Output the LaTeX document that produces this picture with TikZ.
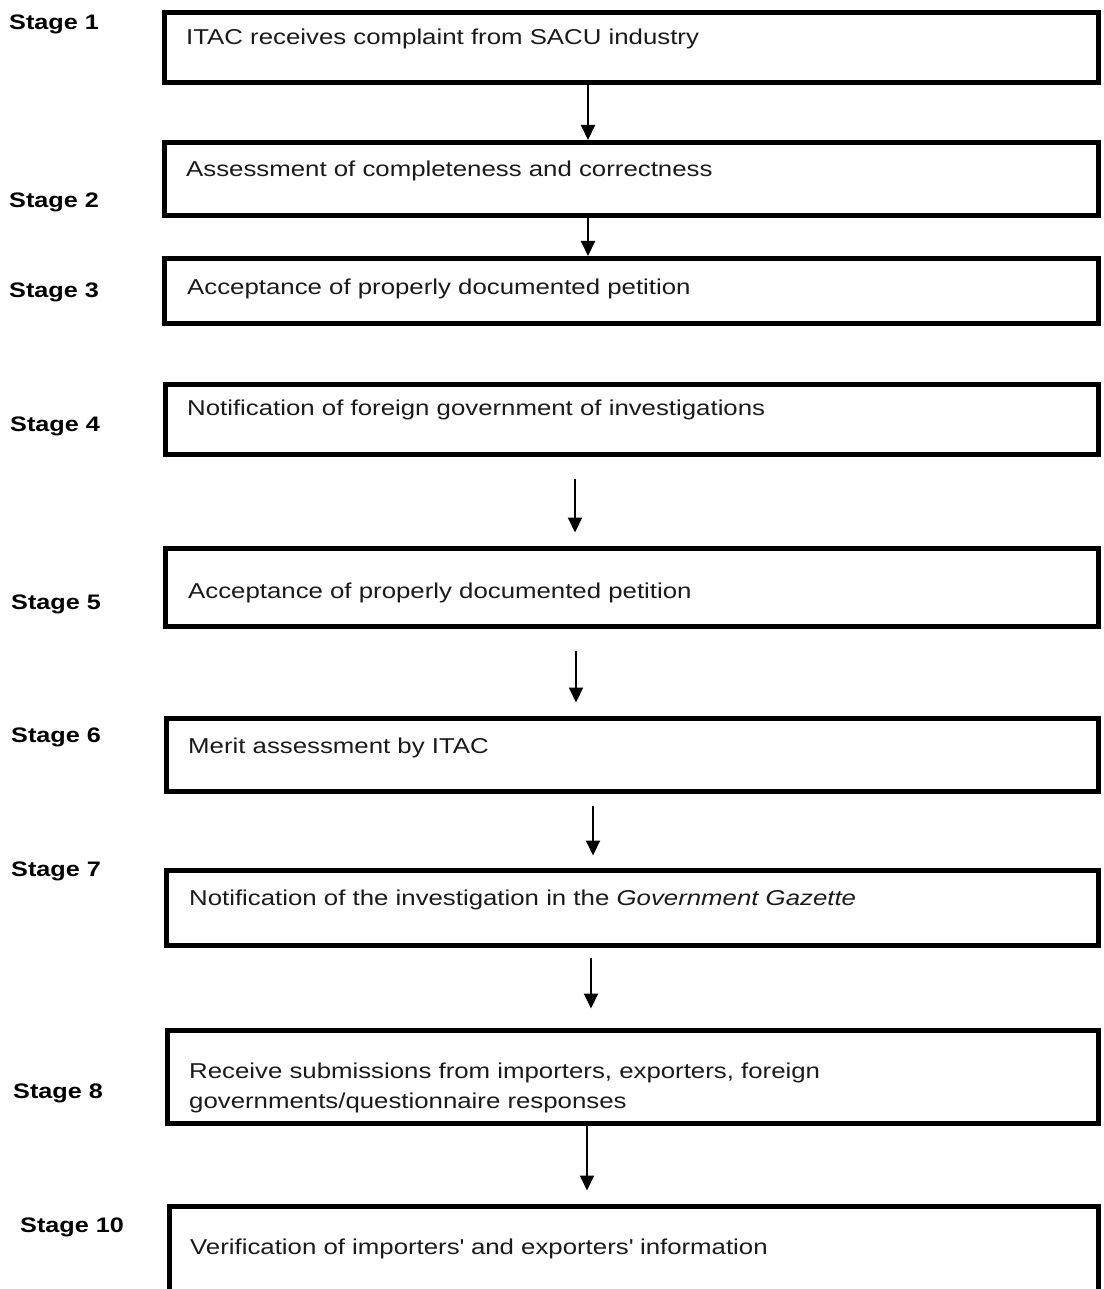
\documentclass[tikz,border=0pt]{standalone}
\usepackage{fontspec}
\setmainfont{Liberation Sans}[FakeStretch=1.2]
\usetikzlibrary{arrows.meta}
\definecolor{ink}{HTML}{1A1A1A}
\tikzset{
  box/.style={draw=black, line width=5pt, rectangle, inner sep=0pt, outer sep=0pt, anchor=north west},
  txt/.style={anchor=base west, inner sep=0pt, text=ink, align=left, font=\fontsize{21.5}{30}\selectfont},
  lbl/.style={anchor=base west, inner sep=0pt, text=black, font=\fontsize{21}{25}\selectfont\bfseries},
  arr/.style={line width=2pt, draw=black, -{Triangle[length=15pt,width=14pt]}}
}
\begin{document}
\begin{tikzpicture}[x=1pt,y=-1pt]
\useasboundingbox (0,0) rectangle (1103,1289);
% boxes
\node[box, minimum width=934pt, minimum height=70pt] (b1) at (164.5,12.5) {};
\node[box, minimum width=934pt, minimum height=73pt] (b2) at (164.5,142.5) {};
\node[box, minimum width=934pt, minimum height=65pt] (b3) at (164.5,258.5) {};
\node[box, minimum width=933pt, minimum height=70pt] (b4) at (165.5,384.5) {};
\node[box, minimum width=933pt, minimum height=78pt] (b5) at (165.5,548.5) {};
\node[box, minimum width=932pt, minimum height=73pt] (b6) at (166.5,718.5) {};
\node[box, minimum width=932pt, minimum height=75pt] (b7) at (166.5,870.5) {};
\node[box, minimum width=931pt, minimum height=93pt] (b8) at (167.5,1030.5) {};
\node[box, minimum width=929pt, minimum height=100pt] (b10) at (169.5,1206.5) {};
% box texts
\node[txt] (t1) at (186,45) {ITAC receives complaint from SACU industry};
\node[txt] (t2) at (186,177) {Assessment of completeness and correctness};
\node[txt] (t3) at (187,294) {Acceptance of properly documented petition};
\node[txt] (t4) at (187,415) {Notification of foreign government of investigations};
\node[txt] (t5) at (188,598) {Acceptance of properly documented petition};
\node[txt] (t6) at (188,753) {Merit assessment by ITAC};
\node[txt] (t7) at (189,905) {Notification of the investigation in the \textit{Government Gazette}};
\node[txt] (t8) at (189,1108) {Receive submissions from importers, exporters, foreign\\governments/questionnaire responses};
\node[txt] (t10) at (190,1254) {Verification of importers\textquotesingle{} and exporters\textquotesingle{} information};
% stage labels
\node[lbl] (s1) at (9,30) {Stage 1};
\node[lbl] (s2) at (9,208) {Stage 2};
\node[lbl] (s3) at (9,297) {Stage 3};
\node[lbl] (s4) at (10,431) {Stage 4};
\node[lbl] (s5) at (11,609) {Stage 5};
\node[lbl] (s6) at (11,742) {Stage 6};
\node[lbl] (s7) at (11,876) {Stage 7};
\node[lbl] (s8) at (13,1098) {Stage 8};
\node[lbl] (s10) at (20,1232) {Stage 10};
% arrow columns
\coordinate (x1) at (588,0);
\coordinate (x2) at (588,0);
\coordinate (x4) at (575,0);
\coordinate (x5) at (576,0);
\coordinate (x6) at (593,0);
\coordinate (x7) at (591,0);
\coordinate (x8) at (587,0);
% arrows
\draw[arr, shorten >=2.5pt] (b1.south -| x1) -- (b2.north -| x1);
\draw[arr, shorten >=2.5pt] (b2.south -| x2) -- (b3.north -| x2);
\draw[arr, shorten <=24pt, shorten >=16pt] (b4.south -| x4) -- (b5.north -| x4);
\draw[arr, shorten <=24pt, shorten >=16pt] (b5.south -| x5) -- (b6.north -| x5);
\draw[arr, shorten <=14pt, shorten >=15pt] (b6.south -| x6) -- (b7.north -| x6);
\draw[arr, shorten <=12pt, shorten >=22pt] (b7.south -| x7) -- (b8.north -| x7);
\draw[arr, shorten >=16pt] (b8.south -| x8) -- (b10.north -| x8);
\end{tikzpicture}
\end{document}
